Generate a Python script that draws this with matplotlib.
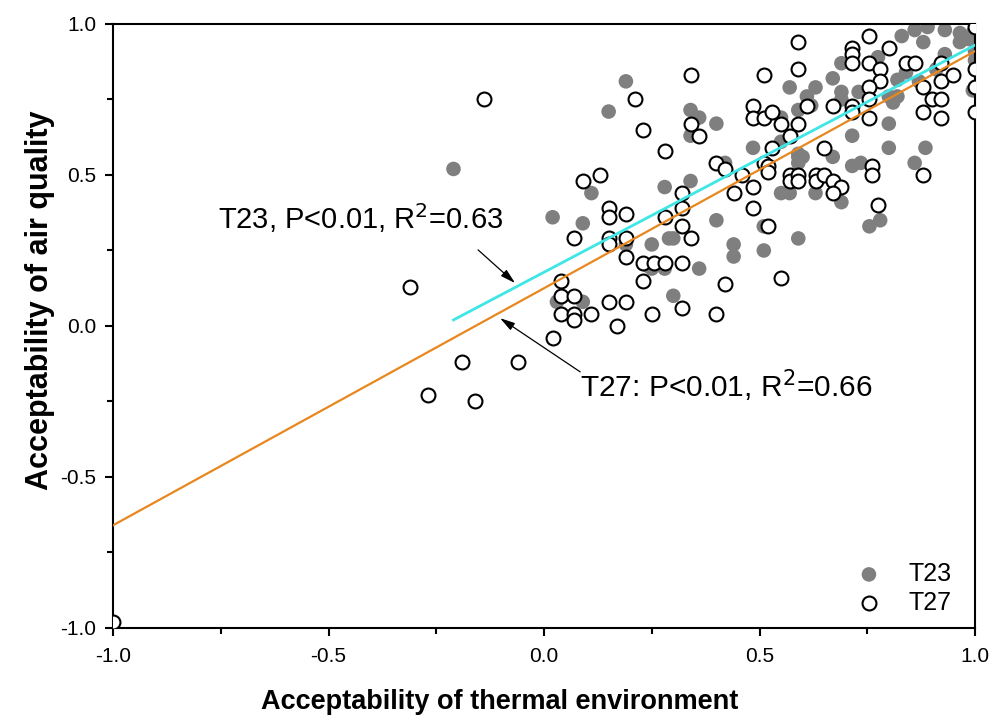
import numpy as np
import matplotlib.pyplot as plt

plt.rcParams['font.family'] = ['Liberation Sans', 'DejaVu Sans']
plt.rcParams['axes.unicode_minus'] = False

# T23 (filled grey)
t23_x = [0.19, 0.15, -0.21, 0.11, 0.28, 0.02, 0.09, 0.25, 0.29, 0.25, 0.28, 0.30, 0.03, 0.09,
         0.19, 0.24, 0.34, 0.40, 0.51, 0.59, 0.44, 0.44, 0.51, 0.30, 0.36, 0.55, 0.57, 0.63,
         0.69, 0.755, 0.78, 0.42, 0.485, 0.59, 0.59, 0.715, 0.735, 0.715, 0.80, 0.885, 0.86,
         0.80, 0.55, 0.59, 0.34, 0.36, 0.34, 0.40, 0.59, 0.61, 0.55, 0.57, 0.63, 0.69, 0.67,
         0.69, 0.73, 0.775, 0.82, 0.82, 0.81, 0.87, 0.91, 0.93, 0.83, 0.86, 0.89, 0.965, 0.995,
         0.88, 0.965, 0.985, 0.995, 0.62, 0.69, 0.755, 0.80, 0.84, 0.60, 0.67, 0.93, 1.0, 1.0]
t23_y = [0.81, 0.71, 0.52, 0.44, 0.46, 0.36, 0.34, 0.27, 0.29, 0.19, 0.19, 0.10, 0.08, 0.08,
         0.27, 0.20, 0.48, 0.35, 0.33, 0.29, 0.27, 0.23, 0.25, 0.29, 0.19, 0.44, 0.44, 0.44,
         0.41, 0.33, 0.35, 0.54, 0.59, 0.57, 0.54, 0.53, 0.54, 0.63, 0.59, 0.59, 0.54,
         0.67, 0.61, 0.56, 0.715, 0.69, 0.63, 0.67, 0.715, 0.76, 0.69, 0.79, 0.79, 0.87, 0.82,
         0.775, 0.775, 0.89, 0.815, 0.76, 0.74, 0.81, 0.85, 0.90, 0.96, 0.98, 0.99, 0.97, 0.97,
         0.94, 0.94, 0.95, 0.78, 0.73, 0.75, 0.755, 0.76, 0.84, 0.56, 0.56, 0.98, 0.91, 0.88]

# T27 (open circles)
t27_x = [-0.14, -0.31, -0.27, -0.19, -0.16, -0.06, -1.0, 0.02, 0.04, 0.04, 0.07, 0.04, 0.07,
         0.07, 0.11, 0.07, 0.15, 0.15, 0.19, 0.19, 0.15, 0.15, 0.19, 0.23, 0.255, 0.28, 0.32,
         0.23, 0.15, 0.19, 0.17, 0.25, 0.28, 0.32, 0.32, 0.21, 0.23, 0.28, 0.09, 0.13, 0.32,
         0.32, 0.34, 0.42, 0.40, 0.55, 0.52, 0.44, 0.485, 0.485, 0.46, 0.40, 0.42, 0.51, 0.52,
         0.52, 0.57, 0.57, 0.59, 0.59, 0.63, 0.63, 0.65, 0.67, 0.69, 0.67, 0.65, 0.76, 0.76,
         0.88, 0.775, 0.34, 0.51, 0.59, 0.59, 0.34, 0.36, 0.485, 0.485, 0.51, 0.53, 0.55, 0.59,
         0.61, 0.57, 0.53, 0.67, 0.755, 0.715, 0.715, 0.715, 0.80, 0.755, 0.78, 0.78, 0.755,
         0.755, 0.715, 0.715, 0.755, 0.84, 0.86, 0.92, 0.92, 0.95, 0.88, 0.90, 0.92, 0.88,
         0.92, 1.0, 1.0, 1.0, 1.0]
t27_y = [0.75, 0.13, -0.23, -0.12, -0.25, -0.12, -0.98, -0.04, 0.15, 0.10, 0.10, 0.04, 0.04,
         0.02, 0.04, 0.29, 0.29, 0.27, 0.29, 0.23, 0.39, 0.36, 0.37, 0.21, 0.21, 0.21, 0.21,
         0.15, 0.08, 0.08, 0.0, 0.04, 0.36, 0.39, 0.06, 0.75, 0.65, 0.58, 0.48, 0.50, 0.44,
         0.33, 0.29, 0.14, 0.04, 0.16, 0.33, 0.44, 0.46, 0.39, 0.50, 0.54, 0.52, 0.54, 0.53,
         0.51, 0.50, 0.48, 0.50, 0.48, 0.50, 0.48, 0.50, 0.48, 0.46, 0.44, 0.59, 0.53, 0.50,
         0.50, 0.40, 0.83, 0.83, 0.94, 0.85, 0.67, 0.63, 0.73, 0.69, 0.69, 0.71, 0.67, 0.67,
         0.73, 0.63, 0.59, 0.73, 0.96, 0.92, 0.90, 0.87, 0.92, 0.87, 0.85, 0.81, 0.79,
         0.75, 0.73, 0.71, 0.69, 0.87, 0.87, 0.87, 0.81, 0.83, 0.79, 0.75, 0.75, 0.71,
         0.69, 0.85, 0.79, 0.71, 0.99]

# linear fits: slope, intercept, x range
fit23 = [0.752, 0.178]
fit23_range = [-0.21, 1.0]
fit27 = [0.785, 0.125]
fit27_range = [-1.0, 1.0]

fig = plt.figure(figsize=(10, 7.22), dpi=100)
ax = fig.add_axes([0.113, 0.1302, 0.862, 0.8366])

ax.scatter(t23_x, t23_y, s=110, color='#7f7f7f', edgecolors='none', label='T23', zorder=2)
ax.scatter(t27_x, t27_y, s=100, facecolors='white', edgecolors='black', linewidths=1.5,
           label='T27', zorder=3)

xx = np.array(fit23_range)
ax.plot(xx, np.polyval(fit23, xx), color='#3ee6e6', lw=2, zorder=4)
xx = np.array(fit27_range)
ax.plot(xx, np.polyval(fit27, xx), color='#e8871e', lw=1.6, zorder=4)

# labels and pointer arrows
ax.text(-0.756, 0.358, 'T23, P<0.01, R$^2$=0.63', fontsize=21, va='center', ha='left')
ax.annotate('', xy=(-0.067, 0.142), xytext=(-0.153, 0.252),
            arrowprops=dict(arrowstyle='-|>,head_length=0.9,head_width=0.25', color='black',
                            lw=0.9, shrinkA=0, shrinkB=0))
ax.text(0.084, -0.198, 'T27: P<0.01, R$^2$=0.66', fontsize=21.5, va='center', ha='left')
ax.annotate('', xy=(-0.102, 0.026), xytext=(0.084, -0.152),
            arrowprops=dict(arrowstyle='-|>,head_length=0.9,head_width=0.25', color='black',
                            lw=0.9, shrinkA=0, shrinkB=0))

ax.set_xlim(-1, 1)
ax.set_ylim(-1, 1)
ax.set_xticks([-1, -0.5, 0, 0.5, 1])
ax.set_yticks([-1, -0.5, 0, 0.5, 1])
ax.set_xticks(np.arange(-0.75, 1, 0.5), minor=True)
ax.set_yticks(np.arange(-0.75, 1, 0.5), minor=True)
ax.xaxis.set_major_formatter(plt.FormatStrFormatter('%.1f'))
ax.yaxis.set_major_formatter(plt.FormatStrFormatter('%.1f'))
ax.tick_params(which='major', direction='out', length=6, width=1.5, labelsize=15)
ax.tick_params(axis='x', which='major', pad=8)
ax.tick_params(axis='y', which='major', pad=6)
ax.tick_params(which='minor', direction='out', length=4, width=1.5)
for sp in ax.spines.values():
    sp.set_linewidth(1.5)

ax.set_xlabel('Acceptability of thermal environment', fontsize=19.5, fontweight='bold')
ax.set_ylabel('Acceptability of air quality', fontsize=22, fontweight='bold')
ax.xaxis.set_label_coords(0.449, -0.101)
ax.yaxis.set_label_coords(-0.067, 0.543)

ax.legend(loc='lower right', frameon=False, fontsize=18, handletextpad=0.6,
          labelspacing=0.2, borderaxespad=0, bbox_to_anchor=(0.985, 0.005))

fig.savefig('out.png', dpi=100)
